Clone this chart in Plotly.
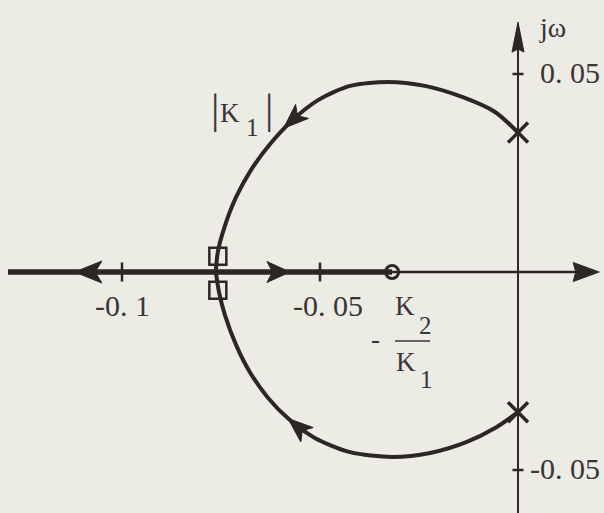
import math
import plotly.graph_objects as go

# ---- root-locus data: two poles on the jw axis, one zero at -K2/K1 ----
poles_re = [0.0, 0.0]
poles_im = [0.0352, -0.0354]
zero_re = [-0.0318]
zero_im = [0.0]
breakin_re = [-0.0758, -0.0758]
breakin_im = [0.0040, -0.0046]

upper_re = [0.0, -0.0058, -0.0141, -0.0235, -0.0328, -0.0424, -0.0505,
            -0.0571, -0.0626, -0.0674, -0.0712, -0.0742, -0.0758, -0.0763]
upper_im = [0.0352, 0.0404, 0.0442, 0.0470, 0.0480, 0.0470, 0.0434,
            0.0382, 0.0323, 0.0258, 0.0189, 0.0111, 0.0051, 0.0]
lower_re = [0.0, -0.0058, -0.0129, -0.0222, -0.0318, -0.0424, -0.0513,
            -0.0576, -0.0631, -0.0677, -0.0712, -0.0740, -0.0755, -0.0763]
lower_im = [-0.0354, -0.0394, -0.0429, -0.0457, -0.0467, -0.0455, -0.0419,
            -0.0374, -0.0318, -0.0253, -0.0184, -0.0109, -0.0051, 0.0]

# axes: extents and tick marks
re_axis = [-0.1288, 0.0205]
im_axis = [-0.0700, 0.0631]
re_ticks = [-0.1, -0.05]
re_tick_labels = ["-0. 1", "-0. 05"]
im_ticks = [0.05, -0.05]
im_tick_labels = ["0. 05", "-0. 05"]

# ---- drawing ----
W, H = 604, 513
S = 3960.0            # pixels per unit, equal on both axes
X0, Y0 = 518, 272     # pixel position of the origin
x_range = [-X0 / S, (W - X0) / S]
y_range = [-(H - Y0) / S, Y0 / S]

BG = "#ECEBE4"
INK = "#2d2626"
TXT = "#3a3636"
FONT = "Liberation Serif"

fig = go.Figure()


def seg(xs, ys, width, color=INK, shape="linear"):
    fig.add_trace(go.Scatter(x=xs, y=ys, mode="lines", hoverinfo="skip",
                             line=dict(color=color, width=width, shape=shape,
                                       smoothing=0.8)))


def head(tx, ty, ux, uy, length, width, notch=0.25):
    """Filled arrowhead with its tip at (tx, ty) pointing along (ux, uy)."""
    n = math.hypot(ux, uy)
    ux, uy = ux / n, uy / n
    L, hw = length / S, width / 2 / S
    bx, by = tx - ux * L, ty - uy * L
    nx, ny = -uy, ux
    mx, my = tx - ux * L * (1 - notch), ty - uy * L * (1 - notch)
    xs = [tx, bx + nx * hw, mx, bx - nx * hw, tx]
    ys = [ty, by + ny * hw, my, by - ny * hw, ty]
    fig.add_trace(go.Scatter(x=xs, y=ys, mode="lines", fill="toself",
                             fillcolor=INK, hoverinfo="skip",
                             line=dict(color=INK, width=1)))


# imaginary axis with arrow
seg([0, 0], [im_axis[0], im_axis[1] - 20 / S], 2.0)
head(0, im_axis[1], 0, 1, 30, 12, notch=0.1)

# real axis: locus part (thick) left of the zero, plain axis to the right
seg([re_axis[0], zero_re[0]], [0, 0], 5.5)
seg([zero_re[0], re_axis[1] - 20 / S], [0, 0], 2.5)
head(re_axis[1], 0, 1, 0, 26, 19, notch=0.1)

# direction arrows on the real-axis branches
head(-0.1119, 0, -1, 0, 27, 22)
head(-0.0576, 0, 1, 0, 23, 21)

# tick marks
for v in re_ticks:
    seg([v, v], [-9.5 / S, 9.5 / S], 2.5)
for v in im_ticks:
    seg([-5.5 / S, 5.5 / S], [v, v], 2.5)

# complex branches
seg(upper_re, upper_im, 4, shape="spline")
seg(lower_re, lower_im, 4, shape="spline")


def branch_arrow(xs, ys, i, ahead, length=25, width=19):
    ux, uy = xs[i + 1] - xs[i - 1], ys[i + 1] - ys[i - 1]
    n = math.hypot(ux, uy)
    tx = xs[i] + ux / n * length * ahead / S
    ty = ys[i] + uy / n * length * ahead / S
    head(tx, ty, ux, uy, length, width)


branch_arrow(upper_re, upper_im, 7, 0.45)
branch_arrow(lower_re, lower_im, 7, 0.1)

# poles, zero, break-in points
fig.add_trace(go.Scatter(x=poles_re, y=poles_im, mode="markers", hoverinfo="skip",
                         marker=dict(symbol="x-thin-open", size=20, color=INK,
                                     line=dict(color=INK, width=3.5))))
fig.add_trace(go.Scatter(x=zero_re, y=zero_im, mode="markers", hoverinfo="skip",
                         marker=dict(symbol="circle-open", size=13, color=INK,
                                     line=dict(color=INK, width=3))))
fig.add_trace(go.Scatter(x=breakin_re, y=breakin_im, mode="markers", hoverinfo="skip",
                         marker=dict(symbol="square-open", size=17, color=INK,
                                     line=dict(color=INK, width=2.5))))

ann = []


def label(text, x, y, xs=0, ys=0, size=30, xanchor="left"):
    ann.append(dict(text=text, x=x, y=y, xref="x", yref="y", showarrow=False,
                    xanchor=xanchor, yanchor="middle", xshift=xs, yshift=ys,
                    font=dict(family=FONT, size=size, color=TXT)))


for v, s in zip(re_ticks, re_tick_labels):
    label(s, v, 0, xs=-29, ys=-33)
for v, s in zip(im_ticks, im_tick_labels):
    label(s, 0, v, xs=84, ys=2, xanchor="right")

label("jω", 0, im_axis[1], xs=19, ys=-5, size=28)

# |K1| beside the upper branch
kx, ky = upper_re[7], upper_im[7]
label("|", kx, ky, xs=-83, ys=12, size=42)
label("K", kx, ky, xs=-74, ys=8, size=27)
label("1", kx, ky, xs=-48, ys=-7, size=25)
label("|", kx, ky, xs=-29, ys=12, size=42)

# -K2/K1 under the zero
zx = zero_re[0]
label("K", zx, 0, xs=1, ys=-34, size=27)
label("2", zx, 0, xs=25, ys=-53, size=25)
label("-", zx, 0, xs=-23, ys=-67, size=27)
label("K", zx, 0, xs=2, ys=-90, size=27)
label("1", zx, 0, xs=26, ys=-107, size=25)
fig.add_trace(go.Scatter(x=[zx + 3 / S, zx + 38 / S], y=[-69 / S, -69 / S],
                         mode="lines", hoverinfo="skip",
                         line=dict(color=TXT, width=1.6)))

fig.update_layout(
    width=W, height=H, margin=dict(l=0, r=0, t=0, b=0),
    paper_bgcolor=BG, plot_bgcolor=BG, showlegend=False,
    xaxis=dict(range=x_range, visible=False, fixedrange=True),
    yaxis=dict(range=y_range, visible=False, fixedrange=True),
    annotations=ann,
)

fig.write_html("out.html")
